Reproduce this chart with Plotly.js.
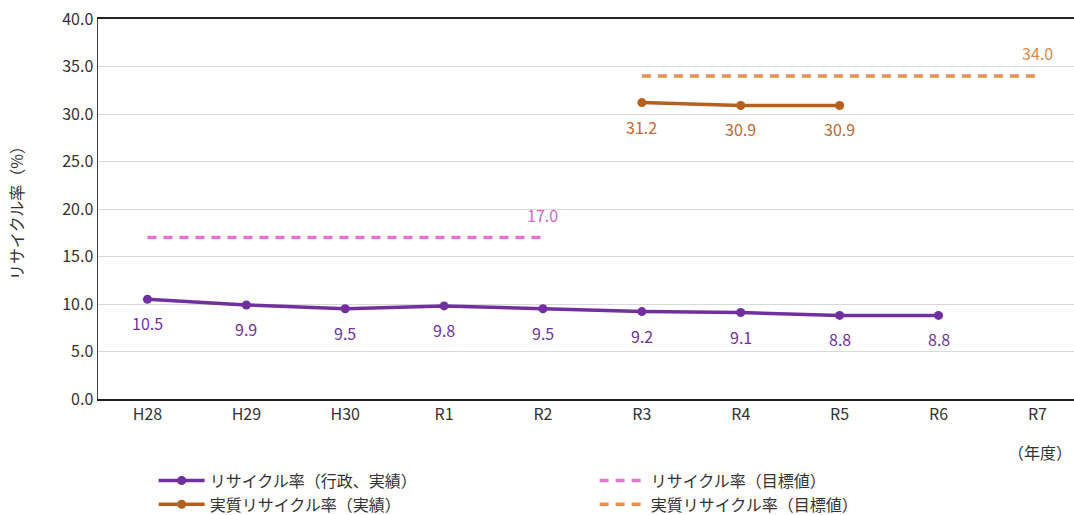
<!DOCTYPE html>
<html>
<head>
<meta charset="utf-8">
<script src="https://cdn.plot.ly/plotly-3.0.1.min.js"></script>
<style>html,body{margin:0;padding:0;background:#fff;}#chart{width:1074px;height:515px;}</style>
</head>
<body>
<div id="chart"></div>
<script>
const categories = ["H28","H29","H30","R1","R2","R3","R4","R5","R6","R7"];
const recycleActualX = ["H28","H29","H30","R1","R2","R3","R4","R5","R6"];
const recycleActual = [10.5, 9.9, 9.5, 9.8, 9.5, 9.2, 9.1, 8.8, 8.8];
const recycleTargetX = ["H28","H29","H30","R1","R2"];
const recycleTarget = [17.0, 17.0, 17.0, 17.0, 17.0];
const realActualX = ["R3","R4","R5"];
const realActual = [31.2, 30.9, 30.9];
const realTargetX = ["R3","R4","R5","R6","R7"];
const realTarget = [34.0, 34.0, 34.0, 34.0, 34.0];
const yTicks = [0,5,10,15,20,25,30,35,40];

const FONT = '"Noto Sans CJK JP", "Noto Sans", sans-serif';
const cPurple = '#7030A0', cPink = '#DD78D2', cBrown = '#B5601F', cOrange = '#E8904C';

const traces = [
  {x: recycleActualX, y: recycleActual, name: 'リサイクル率（行政、実績）', type: 'scatter', mode: 'lines+markers',
   line: {color: cPurple, width: 3.5}, marker: {color: cPurple, size: 9}, hoverinfo: 'skip'},
  {x: recycleTargetX, y: recycleTarget, name: 'リサイクル率（目標値）', type: 'scatter', mode: 'lines',
   line: {color: cPink, width: 3.5, dash: '9px,7px'}, hoverinfo: 'skip'},
  {x: realActualX, y: realActual, name: '実質リサイクル率（実績）', type: 'scatter', mode: 'lines+markers',
   line: {color: cBrown, width: 3.5}, marker: {color: cBrown, size: 9}, hoverinfo: 'skip'},
  {x: realTargetX, y: realTarget, name: '実質リサイクル率（目標値）', type: 'scatter', mode: 'lines',
   line: {color: cOrange, width: 3.5, dash: '9px,7px'}, hoverinfo: 'skip'}
];

const annotations = [];
recycleActualX.forEach((c, i) => annotations.push({x: c, y: recycleActual[i], xref: 'x', yref: 'y',
  text: recycleActual[i].toFixed(1), showarrow: false, yshift: -24,
  font: {family: FONT, size: 16, color: cPurple}}));
realActualX.forEach((c, i) => annotations.push({x: c, y: realActual[i], xref: 'x', yref: 'y',
  text: realActual[i].toFixed(1), showarrow: false, yshift: -24,
  font: {family: FONT, size: 16, color: '#C06A2C'}}));
annotations.push(
  {x: recycleTargetX[recycleTargetX.length-1], y: recycleTarget[recycleTarget.length-1], xref: 'x', yref: 'y',
   text: recycleTarget[recycleTarget.length-1].toFixed(1), showarrow: false, yshift: 23,
   font: {family: FONT, size: 16, color: '#D966CC'}},
  {x: realTargetX[realTargetX.length-1], y: realTarget[realTarget.length-1], xref: 'x', yref: 'y',
   text: realTarget[realTarget.length-1].toFixed(1), showarrow: false, yshift: 23,
   font: {family: FONT, size: 16, color: '#E08A48'}},
  {x: 'R7', y: 0, xref: 'x', yref: 'y', text: '（年度）', showarrow: false, yshift: -53, xshift: 3,
   font: {family: FONT, size: 16, color: '#333'}}
);

const layout = {
  width: 1074, height: 515,
  margin: {l: 98, r: 0, t: 19, b: 116, autoexpand: false},
  paper_bgcolor: '#fff', plot_bgcolor: '#fff',
  font: {family: FONT, size: 16, color: '#333'},
  showlegend: true,
  legend: {orientation: 'h', x: 0.057, y: -0.17, xanchor: 'left', yanchor: 'top',
           entrywidth: 380, entrywidthmode: 'pixels', tracegroupgap: 0,
           font: {family: FONT, size: 16, color: '#333'}, itemwidth: 46},
  xaxis: {type: 'category', categoryorder: 'array', categoryarray: categories,
          range: [-0.5, 9.37], showline: true, linecolor: '#222', linewidth: 2, mirror: true,
          showgrid: false, ticks: '', tickfont: {family: FONT, size: 16, color: '#333'}},
  yaxis: {range: [0, 40], tickvals: yTicks, ticktext: yTicks.map(v => v.toFixed(1)),
          showline: true, linecolor: '#444', linewidth: 1.5, showgrid: true, gridcolor: '#D9D9D9', gridwidth: 1,
          zeroline: false, ticks: '', tickfont: {family: FONT, size: 16, color: '#333'},
          title: {text: 'リサイクル率（%）', font: {family: FONT, size: 16, color: '#333'}, standoff: 34}},
  annotations: annotations
};

Plotly.newPlot('chart', traces, layout, {displayModeBar: false, staticPlot: true});
</script>
</body>
</html>
